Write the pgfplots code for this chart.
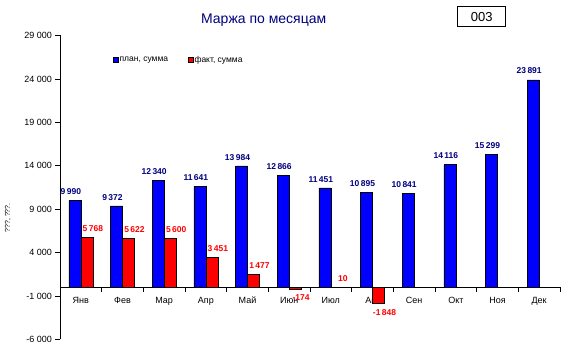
\documentclass[border=0pt]{standalone}
\usepackage{pgfplots}
\pgfplotsset{compat=1.18}
\usepackage{fontspec}
\setmainfont{Liberation Sans}
\definecolor{navy}{HTML}{000080}
\definecolor{pblue}{HTML}{0000FF}
\definecolor{pred}{HTML}{FF0000}
\begin{document}
\begin{tikzpicture}[x=1pt,y=1pt]
\path[use as bounding box] (0,0) rectangle (563,350);
\node[text=navy,font=\fontsize{14}{16}\selectfont] at (263.7,330) {Маржа по месяцам};
\draw[line width=0.8pt] (457.7,343.3) rectangle (505.7,323.3);
\node[font=\fontsize{13}{15}\selectfont] at (481.7,333.3) {003};
\begin{axis}[
  at={(60pt,10.5pt)}, anchor=south west,
  scale only axis, width=500pt, height=304pt,
  ybar=0pt, bar width=12pt,
  xmin=-0.5, xmax=11.5, ymin=-6000, ymax=29000,
  axis x line=middle, axis y line=left,
  axis line style={-, black, line width=0.6pt},
  xtick={-0.5,0.5,...,11.5},
  xticklabels={},
  extra x ticks={0,...,11},
  extra x tick labels={Янв,Фев,Мар,Апр,Май,Июн,Июл,Авг,Сен,Окт,Ноя,Дек},
  extra x tick style={major tick length=0pt, xticklabel style={font=\fontsize{9}{10}\selectfont, yshift=-6pt}},
  x tick style={black, line width=0.6pt},
  tick align=outside,
  major tick length=4.5pt,
  ytick={-6000,-1000,...,29000},
  y tick style={black, line width=0.6pt},
  scaled y ticks=false,
  yticklabel style={font=\fontsize{9}{10}\selectfont, /pgf/number format/.cd, fixed, 1000 sep={\ }, assume math mode=true},
  ylabel={???, ???.},
  every axis y label/.style={at={(axis description cs:-0.104,0.40)}, rotate=90, anchor=center, font=\fontsize{7}{8}\selectfont},
  legend style={draw=none, fill=none, at={(axis description cs:0.105,0.919)}, anchor=west, inner sep=0pt, font=\fontsize{8.5}{9}\selectfont, legend columns=2, /tikz/every even column/.append style={column sep=18pt}, nodes={inner xsep=1.5pt}},
  legend image code/.code={\draw[#1,draw=black,line width=0.4pt] (0pt,-2.5pt) rectangle (5pt,2.5pt);},
  clip=false,
]
\addplot[fill=pblue, draw=black, line width=0.6pt, bar shift=-6pt,
  nodes near coords={\pgfmathprintnumber[fixed,precision=0,1000 sep={\,},assume math mode=true]{\pgfplotspointmeta}},
  every node near coord/.append style={text=navy, font=\bfseries\fontsize{8.5}{9}\selectfont, inner ysep=5.5pt, inner xsep=0pt, xshift=-4pt}]
coordinates {(0,9990) (1,9372) (2,12340) (3,11641) (4,13984) (5,12866) (6,11451) (7,10895) (8,10841) (9,14116) (10,15299) (11,23891)};
\addlegendentry{план, сумма}
\addplot[fill=pred, draw=black, line width=0.6pt, bar shift=6pt,
  nodes near coords={\pgfmathprintnumber[fixed,precision=0,1000 sep={\,},assume math mode=true]{\pgfplotspointmeta}},
  every node near coord/.append style={text=pred, font=\bfseries\fontsize{8.5}{9}\selectfont, inner ysep=5.5pt, inner xsep=0pt, xshift=6pt}]
coordinates {(0,5768) (1,5622) (2,5600) (3,3451) (4,1477) (5,-174) (6,10) (7,-1848)};
\addlegendentry{факт, сумма}
\end{axis}
\end{tikzpicture}
\end{document}
